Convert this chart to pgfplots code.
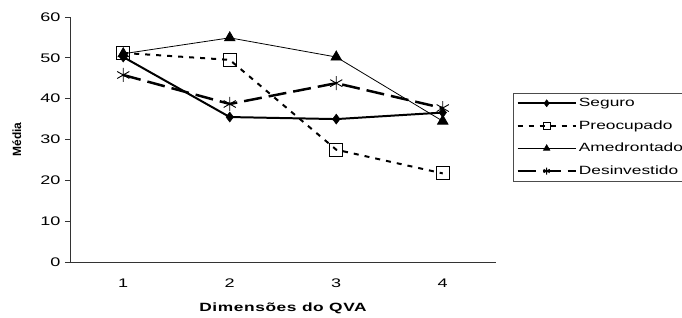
\documentclass[border=0pt]{standalone}
\usepackage{pgfplots}
\pgfplotsset{compat=1.18}
\usepackage{fontspec}
\setmainfont{Liberation Sans}[FakeStretch=1.45]
\newfontfamily\plainfont{Liberation Sans}
\begin{document}
\begin{tikzpicture}[x=1bp,y=1bp]
\begin{axis}[
  at={(70bp,56bp)}, anchor=south west,
  scale only axis, width=426bp, height=245bp,
  xmin=0.5, xmax=4.5, ymin=0, ymax=60,
  axis lines=left, axis line style={-, draw=black!80, line width=0.8pt},
  xtick={1,2,3,4}, major x tick style={draw=none},
  extra x ticks={0.5,1.5,2.5,3.5,4.5}, extra x tick labels={},
  extra x tick style={major tick length=4bp, tick style={draw=black!75, line width=0.8pt}, tick align=outside},
  ytick={0,10,...,60}, tick align=outside, major tick length=5bp,
  y tick style={draw=black!80, line width=0.8pt},
  /pgf/number format/assume math mode=true,
  tick label style={font=\fontsize{12.5}{14}\selectfont},
  yticklabel style={xshift=-1bp},
  xticklabel style={yshift=-8bp},
  xlabel={\bfseries\addfontfeature{LetterSpace=5}Dimensões do QVA},
  xlabel style={font=\fontsize{12}{14}\selectfont, at={(0.5,0)}, anchor=center, yshift=-46bp},
  ylabel={\plainfont\bfseries Média},
  ylabel style={font=\fontsize{12}{14}\selectfont, at={(axis description cs:-0.125,0.5)}, anchor=center},
  clip=false,
  legend style={at={(1.04,0.69)}, anchor=north west, draw=black!70, line width=0.8pt,
    font=\fontsize{12}{14}\selectfont, row sep=8.5bp, inner xsep=3bp, inner ysep=3bp,
    nodes={inner xsep=2bp}},
  legend cell align=left,
  legend image code/.code={\draw[mark repeat=2, mark phase=2, #1, mark size=3.5bp] plot coordinates {(0bp,0bp) (29bp,0bp) (58bp,0bp)};},
]
\addplot[black, line width=2pt, mark=diamond*, mark size=5bp, mark options={solid, line width=0.5pt}] coordinates {(1,50.2) (2,35.5) (3,35.0) (4,36.6)};
\addlegendentry{Seguro}
\addplot[black, line width=2pt, dash pattern=on 5bp off 6bp, mark=square, mark size=6.5bp, mark options={solid, fill=white, line width=1pt}] coordinates {(1,51.2) (2,49.5) (3,27.5) (4,21.7)};
\addlegendentry{Preocupado}
\addplot[black, line width=0.8pt, mark=triangle*, mark size=6bp, mark options={solid}] coordinates {(1,51.0) (2,54.9) (3,50.2) (4,34.5)};
\addlegendentry{Amedrontado}
\addplot[black, line width=2.5pt, dash pattern=on 18bp off 7bp, mark=asterisk, mark size=7bp, mark options={solid, line width=0.9pt}] coordinates {(1,45.8) (2,38.7) (3,43.8) (4,37.7)};
\addlegendentry{Desinvestido}
\end{axis}
\pgfresetboundingbox
\useasboundingbox (0bp,0bp) rectangle (682bp,318bp);
\end{tikzpicture}
\end{document}
